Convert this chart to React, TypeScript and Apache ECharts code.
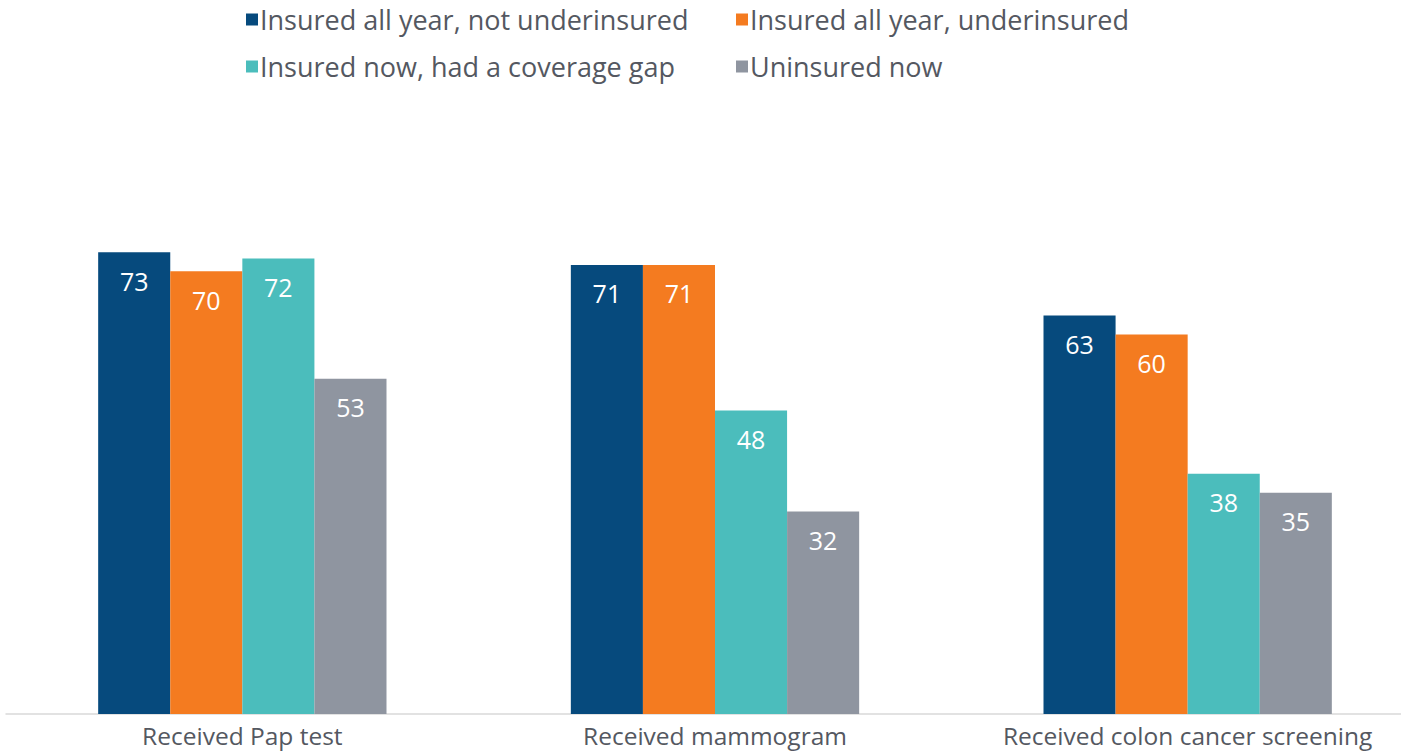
import React, { useEffect, useRef } from "react";
import * as echarts from "echarts";

const categories = ["Received Pap test", "Received mammogram", "Received colon cancer screening"];
const seriesNames = [
  "Insured all year, not underinsured",
  "Insured all year, underinsured",
  "Insured now, had a coverage gap",
  "Uninsured now",
];
const notUnderinsured = [73, 71, 63];
const underinsured = [70, 71, 60];
const coverageGap = [72, 48, 38];
const uninsuredNow = [53, 32, 35];
const colors = ["#064A7D", "#F47B20", "#4BBDBC", "#8F95A0"];

export default function App() {
  const ref = useRef<HTMLDivElement>(null);
  useEffect(() => {
    document.body.style.margin = "0";
    document.body.style.overflow = "hidden";
    const chart = echarts.init(ref.current!, null, { renderer: "svg" });
    const values = [notUnderinsured, underinsured, coverageGap, uninsuredNow];
    const font = "'Open Sans', sans-serif";
    const legendPos = [
      { left: 246, top: 6 },
      { left: 736, top: 6 },
      { left: 246, top: 53 },
      { left: 736, top: 53 },
    ];
    chart.setOption({
      animation: false,
      color: colors,
      legend: seriesNames.map((n, i) => ({
        data: [n],
        left: legendPos[i].left,
        top: legendPos[i].top,
        padding: 0,
        icon: "rect",
        itemWidth: 12,
        itemHeight: 12,
        itemGap: 0,
        textStyle: { fontSize: 27, color: "#545861", fontFamily: font, padding: [0, 0, 0, -3] },
        selectedMode: false,
      })),
      grid: { left: 6, right: 0, top: 208, bottom: 39, containLabel: false },
      xAxis: {
        type: "category",
        data: categories,
        axisLine: { lineStyle: { color: "#D9D9D9", width: 1.5 } },
        axisTick: { show: false },
        axisLabel: { interval: 0, hideOverlap: false, fontSize: 24.5, color: "#545861", fontFamily: font, margin: 9 },
      },
      yAxis: { type: "value", min: 0, max: 80, show: false, splitLine: { show: false } },
      series: seriesNames.map((n, i) => ({
        name: n,
        type: "bar",
        data: values[i],
        barGap: "0%",
        barCategoryGap: "39%",
        itemStyle: { color: colors[i] },
        label: {
          show: true,
          position: "insideTop",
          distance: 16,
          color: "#ffffff",
          fontSize: 25,
          fontFamily: font,
        },
      })),
    });
    return () => chart.dispose();
  }, []);
  return <div ref={ref} style={{ width: 1424, height: 753 }} />;
}
